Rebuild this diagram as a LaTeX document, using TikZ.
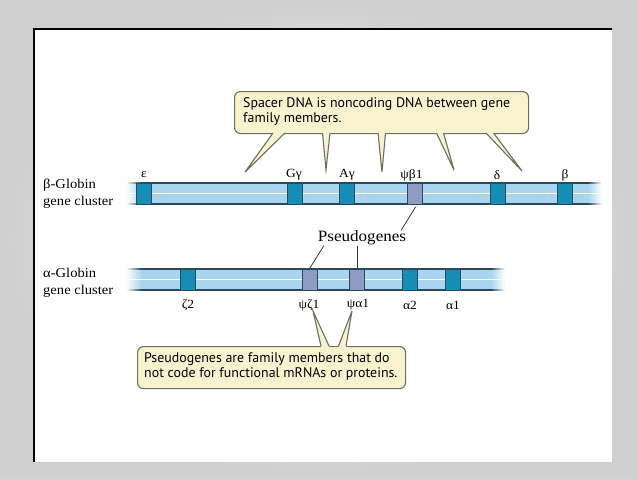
\documentclass[tikz,border=0pt]{standalone}
\usepackage{fontspec}
\setmainfont{Liberation Serif}[FakeStretch=1.08]
\newfontfamily\callfont{PT Sans}
\usetikzlibrary{calc}
\definecolor{barblue}{HTML}{A9D5EE}
\definecolor{genec}{HTML}{168DB5}
\definecolor{pseudoc}{HTML}{8E9CC4}
\definecolor{outl}{HTML}{2A4A5C}
\definecolor{callfill}{HTML}{F8F2CE}
\definecolor{callborder}{HTML}{6E6E64}
\definecolor{linec}{HTML}{3A3A3A}
\begin{document}
\begin{tikzpicture}[x=1pt,y=-1pt,
  gene/.style={draw=outl, fill=genec, line width=0.8pt, minimum width=15pt, minimum height=21pt, inner sep=0pt},
  pgene/.style={gene, fill=pseudoc},
  glabel/.style={inner sep=0pt, font=\fontsize{12.5}{14}\selectfont},
  sidelabel/.style={inner sep=0pt, anchor=west, align=left, font=\fontsize{13.5}{17}\selectfont},
  callout/.style={draw=callborder, fill=callfill, line width=1.1pt, rounded corners=6pt, inner sep=0pt},
  calltext/.style={inner sep=0pt, anchor=west, align=left, font=\callfont\fontsize{13.9}{14.2}\selectfont},
  wedgeline/.style={draw=callborder, line width=1.1pt, line join=miter},
  pline/.style={draw=linec, line width=0.8pt}
]
\useasboundingbox (0,0) rectangle (638,479);
% slide background
\shade[inner color=white, outer color=gray!38] (0,0) rectangle (638,479);
\fill[white] (34,29) rectangle (612,462);
\draw[black, line width=1.6pt] (34,462) -- (34,29) -- (612,29);

% ---- beta bar
\fill[barblue] (141,183) rectangle (588,204);
\shade[left color=white, right color=barblue] (126,183) rectangle (141.2,204);
\shade[left color=barblue, right color=white] (587.8,183) rectangle (602,204);
\draw[outl, line width=1.3pt] (141,183) -- (588,183) (141,204) -- (588,204);
\shade[left color=white, right color=outl] (126,182.35) rectangle (141.2,183.65);
\shade[left color=white, right color=outl] (126,203.35) rectangle (141.2,204.65);
\shade[left color=outl, right color=white] (587.8,182.35) rectangle (602,183.65);
\shade[left color=outl, right color=white] (587.8,203.35) rectangle (602,204.65);
\draw[white, line width=0.9pt] (126,193.5) -- (602,193.5);

% ---- alpha bar
\fill[barblue] (141,269) rectangle (491,290);
\shade[left color=white, right color=barblue] (126,269) rectangle (141.2,290);
\shade[left color=barblue, right color=white] (490.8,269) rectangle (505,290);
\draw[outl, line width=1.3pt] (141,269) -- (491,269) (141,290) -- (491,290);
\shade[left color=white, right color=outl] (126,268.35) rectangle (141.2,269.65);
\shade[left color=white, right color=outl] (126,289.35) rectangle (141.2,290.65);
\shade[left color=outl, right color=white] (490.8,268.35) rectangle (505,269.65);
\shade[left color=outl, right color=white] (490.8,289.35) rectangle (505,290.65);
\draw[white, line width=0.9pt] (126,279.5) -- (505,279.5);

% ---- beta genes
\node[gene]  (eps)  at (144,193.5) {};
\node[gene]  (Gg)   at (294.5,193.5) {};
\node[gene]  (Ag)   at (346.5,193.5) {};
\node[pgene] (psib) at (414.5,193.5) {};
\node[gene]  (del)  at (497.5,193.5) {};
\node[gene]  (bet)  at (564.5,193.5) {};
\node[glabel] (leps) at (144,175) {ε};
\node[glabel] (lGg)  at (294,175) {Gγ};
\node[glabel] (lAg)  at (347,175) {Aγ};
\node[glabel] (lpsib) at (411.5,175) {ψβ1};
\node[glabel] (ldel) at (497,175) {δ};
\node[glabel] (lbet) at (565,175) {β};

% ---- alpha genes
\node[gene]  (z2)   at (188,279.5) {};
\node[pgene] (psiz) at (309.5,279.5) {};
\node[pgene] (psia) at (357,279.5) {};
\node[gene]  (a2)   at (410,279.5) {};
\node[gene]  (a1)   at (453,279.5) {};
\node[glabel] (lz2)   at (188,305) {ζ2};
\node[glabel] (lpsiz) at (309,305) {ψζ1};
\node[glabel] (lpsia) at (358,305) {ψα1};
\node[glabel] (la2)   at (410,305) {α2};
\node[glabel] (la1)   at (453,305) {α1};

% ---- side labels
\node[sidelabel] (bglob) at (43,194) {β-Globin\\gene cluster};
\node[sidelabel] (aglob) at (43,283) {α-Globin\\gene cluster};

% ---- pseudogenes label
\node[inner sep=0pt, font=\fontsize{15.8}{17}\selectfont] (pseudo) at (362,238) {Pseudogenes};
\coordinate (pb1) at (415.5,207);
\coordinate (pb2) at (401,230.5);
\coordinate (pz1) at (324,245.5);
\coordinate (pa1) at (357,245.5);
\draw[pline] (pb1) -- (pb2);
\draw[pline] (pz1) -- (psiz.north);
\draw[pline] (pa1) -- (psia.north);

% ---- callout 1
\node[callout, minimum width=294pt, minimum height=42pt, anchor=north west] (c1) at (234,91) {};
\node[calltext] (t1) at (243,111.5) {Spacer DNA is noncoding DNA between gene\\family members.};
\coordinate (w1tip) at (245,172);
\coordinate (w2tip) at (326,170);
\coordinate (w3tip) at (382,172);
\coordinate (w4tip) at (454,170);
\coordinate (w5tip) at (522,171);
\foreach \a/\b/\t in {273/285/w1tip, 322.5/330/w2tip, 378/385.5/w3tip, 436.5/443.5/w4tip, 486/493.5/w5tip}{
  \fill[callfill] (\a,130.5) -- (\a,133) -- (\t) -- (\b,133) -- (\b,130.5) -- cycle;
  \draw[wedgeline] (\a,133) -- (\t) -- (\b,133);
}

% ---- callout 2
\node[callout, minimum width=268pt, minimum height=42pt, anchor=north west] (c2) at (137,346) {};
\node[calltext] (t2) at (144,366.5) {Pseudogenes are family members that do\\not code for functional mRNAs or proteins.};
\coordinate (v1tip) at (313,311);
\coordinate (v2tip) at (352,311);
\foreach \a/\b/\t in {321/329/v1tip, 338.5/346/v2tip}{
  \fill[callfill] (\a,348.5) -- (\a,346) -- (\t) -- (\b,346) -- (\b,348.5) -- cycle;
  \draw[wedgeline] (\a,346) -- (\t) -- (\b,346);
}
\end{tikzpicture}
\end{document}
